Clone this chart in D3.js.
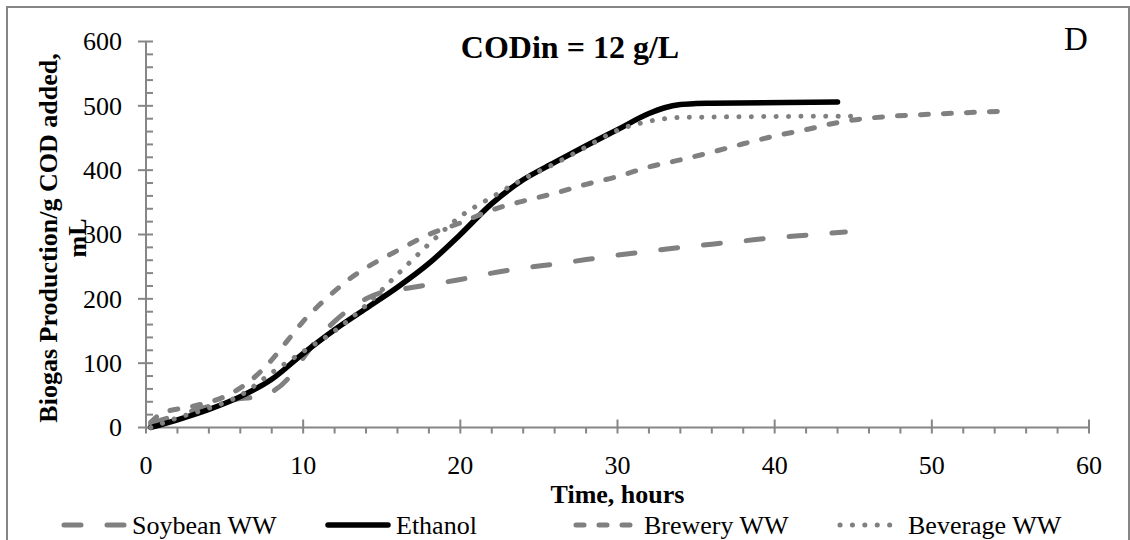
<!DOCTYPE html>
<html>
<head>
<meta charset="utf-8">
<script src="https://cdn.jsdelivr.net/npm/d3@7"></script>
<style>
  body { margin: 0; background: #fff; }
  text { font-family: "Liberation Serif", "Times New Roman", serif; }
</style>
</head>
<body>
<svg id="chart" width="1130" height="540"></svg>
<script>
// Series data (hours, mL per g COD added)
const soybeanHours  = [0.3, 1, 2, 3, 4, 5, 6, 7, 8, 9, 10, 11, 12, 13, 14, 15, 16, 18, 20, 22, 24, 26, 28, 30, 32, 34, 36, 38, 40, 42, 44.5];
const soybeanValues = [5, 12, 18, 26, 33, 40, 45, 47, 55, 75, 108, 140, 165, 185, 200, 210, 214, 222, 230, 240, 248, 254, 261, 268, 274, 280, 285, 290, 295, 299, 304];

const ethanolHours  = [0.3, 2, 4, 6, 8, 10, 12, 14, 16, 18, 20, 22, 24, 26, 28, 30, 32, 33, 34, 35, 36, 44];
const ethanolValues = [0, 12, 28, 48, 75, 115, 152, 185, 218, 255, 300, 348, 385, 412, 438, 463, 488, 497, 502, 503.5, 504, 506];

const breweryHours  = [0.3, 1, 3, 5, 6.5, 8, 9, 10, 11, 12, 13, 14, 16, 18, 20, 22, 24, 26, 28, 30, 32, 34, 36, 38, 40, 42, 44, 45, 47, 50, 55];
const breweryValues = [8, 22, 33, 48, 70, 105, 135, 165, 190, 212, 232, 248, 275, 300, 318, 338, 352, 364, 378, 390, 405, 416, 428, 441, 453, 463, 474, 478, 483, 487, 492];

const beverageHours  = [0.3, 2, 4, 6, 8, 10, 12, 14, 16, 18, 20, 22, 24, 26, 28, 30, 32, 33, 34, 45.3];
const beverageValues = [0, 15, 30, 50, 85, 118, 150, 190, 238, 285, 328, 358, 386, 410, 436, 462, 476, 480, 482, 484];

const seriesNames = ["Soybean WW", "Ethanol", "Brewery WW", "Beverage WW"];
const xTicks = [0, 10, 20, 30, 40, 50, 60];
const yTicks = [0, 100, 200, 300, 400, 500, 600];

const svg = d3.select("#chart");
const axisColor = "#868686";
const gray = "#808080";

// Outer chart border
svg.append("rect")
  .attr("x", 7).attr("y", 7)
  .attr("width", 1122).attr("height", 545)
  .attr("fill", "none")
  .attr("stroke", axisColor)
  .attr("stroke-width", 2);

const x = d3.scaleLinear().domain([0, 60]).range([146, 1089]);
const y = d3.scaleLinear().domain([0, 600]).range([427.5, 41.5]);

// Y axis with crossing major ticks and inside minor ticks
const yAxisG = svg.append("g");
yAxisG.append("line")
  .attr("x1", x(0)).attr("x2", x(0))
  .attr("y1", y(0)).attr("y2", y(600))
  .attr("stroke", axisColor).attr("stroke-width", 2);
d3.range(0, 601, 20).forEach(v => {
  const major = v % 100 === 0;
  yAxisG.append("line")
    .attr("x1", major ? x(0) - 8 : x(0)).attr("x2", x(0) + 7)
    .attr("y1", y(v)).attr("y2", y(v))
    .attr("stroke", axisColor).attr("stroke-width", 2);
});
yAxisG.selectAll("text.ytick")
  .data(yTicks)
  .join("text")
  .attr("x", 122)
  .attr("y", d => y(d))
  .attr("dy", "0.34em")
  .attr("text-anchor", "end")
  .attr("font-size", 26)
  .text(d => d);

// X axis with crossing major ticks and outside minor ticks
const xAxisG = svg.append("g");
xAxisG.append("line")
  .attr("x1", x(0)).attr("x2", x(60))
  .attr("y1", y(0)).attr("y2", y(0))
  .attr("stroke", axisColor).attr("stroke-width", 2);
d3.range(0, 61, 2).forEach(h => {
  const major = h % 10 === 0;
  xAxisG.append("line")
    .attr("x1", x(h)).attr("x2", x(h))
    .attr("y1", major ? y(0) - 8 : y(0)).attr("y2", y(0) + 6)
    .attr("stroke", axisColor).attr("stroke-width", 2);
});
xAxisG.selectAll("text.xtick")
  .data(xTicks)
  .join("text")
  .attr("x", d => x(d))
  .attr("y", 474)
  .attr("text-anchor", "middle")
  .attr("font-size", 26)
  .text(d => d);

// Axis titles
svg.append("text")
  .attr("x", x(30)).attr("y", 503)
  .attr("text-anchor", "middle")
  .attr("font-size", 26).attr("font-weight", "bold")
  .text("Time, hours");

const yLabel = svg.append("text")
  .attr("transform", "translate(57,238) rotate(-90)")
  .attr("text-anchor", "middle")
  .attr("font-size", 26).attr("font-weight", "bold");
yLabel.append("tspan").attr("x", 0).attr("y", 0).text("Biogas Production/g COD added,");
yLabel.append("tspan").attr("x", 0).attr("y", 29).text("mL");

// Chart title and panel letter
svg.append("text")
  .attr("x", 570).attr("y", 58)
  .attr("text-anchor", "middle")
  .attr("font-size", 32).attr("font-weight", "bold")
  .text("CODin = 12 g/L");

svg.append("text")
  .attr("x", 1076).attr("y", 50)
  .attr("text-anchor", "middle")
  .attr("font-size", 33)
  .text("D");

// Series styles
const styles = [
  { color: gray, width: 5, dash: "17,26" },
  { color: "#000", width: 5.5, dash: null },
  { color: gray, width: 5, dash: "8,15" },
  { color: gray, width: 5, dash: "0.1,12.3" }
];

const series = [
  soybeanHours.map((h, i) => [h, soybeanValues[i]]),
  ethanolHours.map((h, i) => [h, ethanolValues[i]]),
  breweryHours.map((h, i) => [h, breweryValues[i]]),
  beverageHours.map((h, i) => [h, beverageValues[i]])
];

const line = d3.line()
  .x(d => x(d[0]))
  .y(d => y(d[1]))
  .curve(d3.curveMonotoneX);

series.forEach((pts, i) => {
  svg.append("path")
    .datum(pts)
    .attr("d", line)
    .attr("fill", "none")
    .attr("stroke", styles[i].color)
    .attr("stroke-width", styles[i].width)
    .attr("stroke-linecap", "round")
    .attr("stroke-linejoin", "round")
    .attr("stroke-dasharray", styles[i].dash);
});

// Legend
const legendX = [62, 326, 574, 838];
const legendY = 525;
seriesNames.forEach((name, i) => {
  const g = svg.append("g").attr("transform", `translate(${legendX[i]},${legendY})`);
  g.append("line")
    .attr("x1", 2).attr("x2", 62)
    .attr("y1", 0).attr("y2", 0)
    .attr("stroke", styles[i].color)
    .attr("stroke-width", styles[i].width)
    .attr("stroke-linecap", "round")
    .attr("stroke-dasharray", styles[i].dash);
  g.append("text")
    .attr("x", 70).attr("y", 0)
    .attr("dy", "0.34em")
    .attr("font-size", 26)
    .text(name);
});
</script>
</body>
</html>
